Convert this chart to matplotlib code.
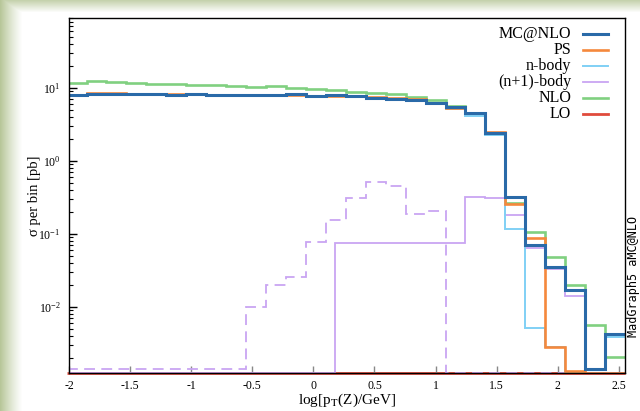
import numpy as np
import matplotlib
matplotlib.use("Agg")
import matplotlib.pyplot as plt
from matplotlib.lines import Line2D

plt.rcParams["font.family"] = ["Liberation Serif", "DejaVu Serif"]
plt.rcParams["mathtext.fontset"] = "stix"
plt.rcParams["axes.unicode_minus"] = False

# ---- histogram data: log10(pT(Z)/GeV) bins, cross section per bin [pb] ----
bin_edges = np.linspace(-2.02, 2.55, 29)

mc_at_nlo = [8.02, 8.27, 8.2, 8.25, 8.2, 8.15, 8.3, 8.0, 8.05, 8.1, 8.15, 8.2, 7.8, 7.9,
             7.75, 7.2, 7.0, 6.8, 6.15, 5.5, 4.5, 2.42, 0.318, 0.0706, 0.035, 0.0171,
             0.00142, 0.00427]
ps = [8.1, 8.5, 8.45, 8.3, 8.25, 8.2, 8.3, 8.1, 8.0, 8.1, 8.1, 8.15, 7.7, 7.75,
      7.8, 7.5, 7.2, 7.0, 6.3, 5.4, 4.6, 2.5, 0.256, 0.088, 0.00283, 0.00135, 0, 0]
n_body = [7.8, 8.05, 8.0, 8.05, 8.0, 7.95, 8.1, 7.8, 7.85, 7.9, 7.95, 8.0, 7.6, 7.7,
          7.55, 7.0, 6.8, 6.6, 5.95, 5.2, 4.2, 2.27, 0.118, 0.0052, 0.00283, 0,
          0.00142, 0.0039]
nlo = [11.8, 12.4, 12.0, 11.8, 11.4, 11.4, 11.0, 11.0, 10.7, 10.2, 10.8, 10.1, 9.6, 9.4,
       8.9, 8.5, 8.2, 7.6, 6.8, 5.6, 4.6, 2.45, 0.268, 0.108, 0.049, 0.020, 0.0057, 0.0021]
lo = [0.0] * 28

# (n+1)-body contribution (solid) on its own edges
np1_edges = [-2.02, 0.18, 1.244, 1.407, 1.570, 1.734, 1.897, 2.060, 2.223, 2.55]
np1_body = [0, 0.076, 0.318, 0.31, 0.184, 0.065, 0.033, 0.014, 0]

# (n+1)-body, dashed curve
np1_dashed = [0.00143, 0.00143, 0.00143, 0.00143, 0.00143, 0.00143, 0.00143, 0.00143,
              0.00143, 0.0099, 0.020, 0.026, 0.077, 0.156, 0.31, 0.52, 0.455, 0.188,
              0.208, 0, 0, 0, 0, 0, 0, 0, 0, 0]

YMIN, YMAX = 1.25e-3, 91.0

W, H = 640, 411
fig = plt.figure(figsize=(W / 100, H / 100), dpi=100)

# soft green border around the white canvas
xx = np.arange(W)[None, :]
yy = np.arange(H)[:, None]
w_left = np.clip(1 - xx / 22.0, 0, 1) ** 1.2 * np.ones((H, 1))
w_top = 0.8 * np.clip(1 - yy / 12.0, 0, 1) * np.ones((1, W))
w = np.maximum(w_left, w_top)
green_tint = np.array([0.72, 0.78, 0.60])
bg = 1 - w[..., None] * (1 - green_tint)
fig.figimage(bg, 0, 0, origin="upper", zorder=-10)

ax = fig.add_axes([69 / W, 1 - 373 / H, 556 / W, 355 / H])
ax.set_facecolor("white")


def floor(v):
    return np.clip(np.asarray(v, dtype=float), YMIN, None)


ax.stairs(floor(lo), bin_edges, baseline=None, color="#e04b3c", lw=2.0, zorder=1.5,
          clip_on=False)
ax.stairs(floor(np1_dashed), bin_edges, baseline=None, color="#c9a5f2", lw=1.3,
          ls=(0, (6, 3.5)), zorder=2)
ax.stairs(floor(np1_body), np1_edges, baseline=None, color="#c9a5f2", lw=1.3, zorder=3)
ax.stairs(floor(nlo), bin_edges, baseline=None, color="#80d080", lw=1.9, zorder=2.5)
ax.stairs(floor(n_body), bin_edges, baseline=None, color="#80d0f5", lw=1.4, zorder=4)
ax.stairs(floor(ps), bin_edges, baseline=None, color="#f5883c", lw=1.9, zorder=5)
ax.stairs(floor(mc_at_nlo), bin_edges, baseline=None, color="#2a6aa8", lw=2.2, zorder=6)

ax.set_yscale("log")
ax.set_xlim(-2, 2.55)
ax.set_ylim(YMIN, YMAX)

ax.set_xticks([-2, -1.5, -1, -0.5, 0, 0.5, 1, 1.5, 2, 2.5])
ax.set_xticklabels(["-2", "-1.5", "-1", "-0.5", "0", "0.5", "1", "1.5", "2", "2.5"])
ax.tick_params(axis="x", direction="in", length=5, width=1, color="#888888",
               labelsize=8.5, pad=5, top=False)
ax.tick_params(axis="y", which="major", direction="in", length=6, width=1,
               labelsize=8.5, pad=6, right=False)
ax.tick_params(axis="y", which="minor", direction="in", length=3, width=0.8, right=False)
for s in ax.spines.values():
    s.set_linewidth(1.0)
    s.set_color("black")
    s.set_zorder(7)

ax.set_xlabel(r"log[p$_\mathrm{T}$(Z)/GeV]", fontsize=11, labelpad=0)
ax.set_ylabel("σ per bin [pb]", fontsize=10.5, labelpad=-2)

# legend: label text on the left, line sample on the right
entries = [("MC@NLO", "#2a6aa8", 2.2), ("PS", "#f5883c", 1.9), ("n-body", "#80d0f5", 1.4),
           ("(n+1)-body", "#c9a5f2", 1.3), ("NLO", "#80d080", 1.9), ("LO", "#e04b3c", 2.0)]
for i, (lab, col, lw) in enumerate(entries):
    ypx = 34 + 16 * i
    fig.text(571 / W, 1 - ypx / H, lab, ha="right", va="center", fontsize=11.5)
    fig.add_artist(Line2D([583 / W, 608 / W], [1 - ypx / H, 1 - ypx / H],
                          color=col, lw=lw, transform=fig.transFigure))

fig.text(634 / W, 1 - 276 / H, "MadGraph5 aMC@NLO", rotation=90, ha="center", va="center",
         family="DejaVu Sans Mono", fontsize=8.5)

fig.savefig("out.png", dpi=100)
